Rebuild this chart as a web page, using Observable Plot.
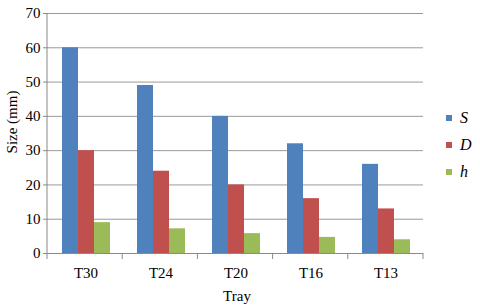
<!DOCTYPE html>
<html>
<head>
<meta charset="utf-8">
<script src="https://cdn.jsdelivr.net/npm/d3@7"></script>
<script src="https://cdn.jsdelivr.net/npm/@observablehq/plot@0.6"></script>
<style>
  html, body { margin: 0; padding: 0; background: #fff; }
  #wrap { position: relative; width: 480px; height: 306px; }
  .legend { position: absolute; left: 446px; top: 104px; font-family: "Liberation Serif", "Times New Roman", "DejaVu Serif", serif; font-size: 16px; font-style: italic; color: #000; }
  .legend .item { display: flex; align-items: center; height: 27px; }
  .legend .sw { width: 6px; height: 6px; margin-right: 8px; }
  svg text { font-family: "Liberation Serif", "Times New Roman", "DejaVu Serif", serif !important; }
</style>
</head>
<body>
<div id="wrap"></div>
<script>
const trays = ["T30", "T24", "T20", "T16", "T13"];
const seriesNames = ["S", "D", "h"];
const sValues = [60, 49, 40, 32, 26];
const dValues = [30, 24, 20, 16, 13];
const hValues = [9, 7.2, 5.8, 4.7, 4.0];
const colors = ["#4F81BD", "#C0504D", "#9BBB59"];
const yTicks = [0, 10, 20, 30, 40, 50, 60, 70];

const seriesValues = [sValues, dValues, hValues];
const table = [];
trays.forEach((t, i) => seriesNames.forEach((s, j) => table.push({tray: t, series: s, value: seriesValues[j][i]})));

const font = "'Liberation Serif', 'Times New Roman', 'DejaVu Serif', serif";
const chart = Plot.plot({
  width: 480,
  height: 306,
  marginLeft: 47,
  marginRight: 57,
  marginTop: 13,
  marginBottom: 53,
  style: {fontFamily: font, fontSize: "15px", color: "#000", background: "#fff"},
  fx: {domain: trays, padding: 0, label: "Tray"},
  x: {domain: seriesNames, paddingInner: 0, paddingOuter: 0.75, axis: null},
  y: {domain: [0, 70]},
  color: {domain: seriesNames, range: colors},
  marks: [
    Plot.gridY(yTicks, {stroke: "#9a9a9a", strokeOpacity: 1}),
    Plot.barY(table, {fx: "tray", x: "series", y: "value", fill: "series"}),
    Plot.ruleY([0], {stroke: "#8a8a8a"}),
    Plot.axisY(yTicks, {tickSize: 5, tickPadding: 3, stroke: "#8a8a8a", fill: "#000", fontSize: 15, label: null}),
    Plot.axisFx({anchor: "bottom", tickSize: 0, tickPadding: 14, fontSize: 15, label: null})
  ]
});

const fxs = chart.scale("fx");
const ys = Plot.scale({y: chart.scale("y")});
const r0 = fxs.range[0], r1 = fxs.range[1];
const n = trays.length;
const svg = d3.select(chart.tagName === "svg" ? chart : chart.querySelector("svg"));
const y0 = ys.apply(0), yTop = ys.apply(70);
svg.append("line").attr("x1", r0).attr("x2", r0).attr("y1", yTop).attr("y2", y0).attr("stroke", "#8a8a8a");
for (let i = 0; i <= n; i++) {
  const x = r0 + i * (r1 - r0) / n;
  svg.append("line").attr("x1", x).attr("x2", x).attr("y1", y0).attr("y2", y0 + 6).attr("stroke", "#8a8a8a");
}
// axis titles
svg.append("text").attr("transform", `translate(12,122) rotate(-90)`)
  .attr("text-anchor", "middle").attr("dy", "0.35em").attr("font-size", 15).attr("fill", "#000").text("Size (mm)");
svg.append("text").attr("x", (r0 + r1) / 2 + 2).attr("y", 296).attr("text-anchor", "middle").attr("dy", "0.35em")
  .attr("font-size", 15).attr("fill", "#000").text("Tray");

const wrap = document.getElementById("wrap");
wrap.appendChild(chart);
const legend = document.createElement("div");
legend.className = "legend";
seriesNames.forEach((s, j) => {
  const item = document.createElement("div");
  item.className = "item";
  const sw = document.createElement("span");
  sw.className = "sw";
  sw.style.background = colors[j];
  const lab = document.createElement("span");
  lab.textContent = s;
  item.appendChild(sw);
  item.appendChild(lab);
  legend.appendChild(item);
});
wrap.appendChild(legend);
</script>
</body>
</html>
